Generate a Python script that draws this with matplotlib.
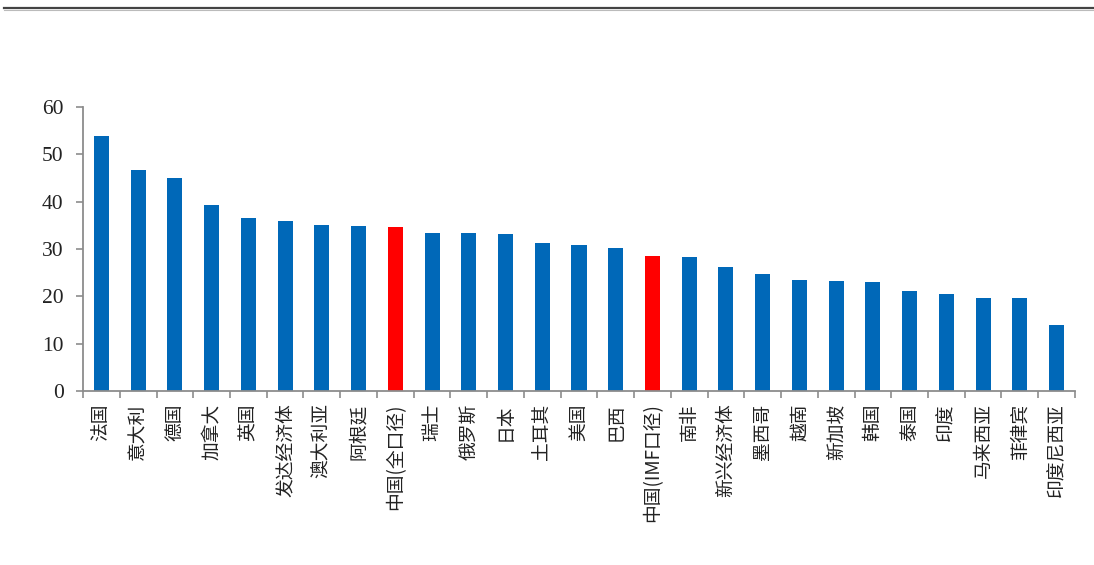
import matplotlib
matplotlib.use("Agg")
import matplotlib.pyplot as plt
from matplotlib.lines import Line2D
import numpy as np

categories = ["法国", "意大利", "德国", "加拿大", "英国", "发达经济体", "澳大利亚", "阿根廷",
              "中国(全口径)", "瑞士", "俄罗斯", "日本", "土耳其", "美国", "巴西", "中国(IMF口径)",
              "南非", "新兴经济体", "墨西哥", "越南", "新加坡", "韩国", "泰国", "印度",
              "马来西亚", "菲律宾", "印度尼西亚"]
values = [53.8, 46.7, 45.0, 39.3, 36.6, 35.9, 35.0, 34.8,
          34.7, 33.3, 33.3, 33.1, 31.2, 30.9, 30.2, 28.5,
          28.3, 26.2, 24.7, 23.5, 23.3, 23.0, 21.1, 20.5,
          19.6, 19.6, 14.0]
highlight = ["中国(全口径)", "中国(IMF口径)"]
yticks = [0, 10, 20, 30, 40, 50, 60]

blue = "#0068B8"
red = "#FF0000"
axis_gray = "#8C8C8C"

fig = plt.figure(figsize=(10.94, 5.65), dpi=100)
ax = fig.add_axes([0.0759, 0.308, 0.9067, 0.5026])

x = np.arange(len(categories))
colors = [red if c in highlight else blue for c in categories]
ax.bar(x, values, width=0.41, color=colors, zorder=2)

ax.set_xlim(-0.5, len(categories) - 0.5)
ax.set_ylim(0, 60)
ax.set_yticks(yticks)
ax.set_yticklabels([str(v) for v in yticks], fontfamily="Liberation Serif", fontsize=15.5)

ax.set_xticks(x)
ax.set_xticklabels(categories, rotation=90, fontsize=13.5,
                   fontfamily=["Noto Sans CJK SC", "DejaVu Sans"], color="#222222")
ax.tick_params(axis="x", which="major", length=0, pad=9)
ax.set_xticks(np.arange(-0.5, len(categories), 1), minor=True)
ax.tick_params(axis="x", which="minor", length=5, width=1.2, color=axis_gray, direction="out")
ax.tick_params(axis="y", length=5, width=1.2, color=axis_gray, direction="out", pad=9,
               labelcolor="#222222")

for s in ["top", "right"]:
    ax.spines[s].set_visible(False)
for s in ["left", "bottom"]:
    ax.spines[s].set_color(axis_gray)
    ax.spines[s].set_linewidth(1.3)

# Top horizontal rule of the page
fig.add_artist(Line2D([0.004, 1.0], [1 - 8.0 / 565, 1 - 8.0 / 565], color="#444444", lw=1.6,
                      transform=fig.transFigure))
fig.add_artist(Line2D([0.004, 1.0], [1 - 10.0 / 565, 1 - 10.0 / 565], color="#BBBBBB", lw=0.8,
                      transform=fig.transFigure))

fig.savefig("out.png", dpi=100, facecolor="white")
